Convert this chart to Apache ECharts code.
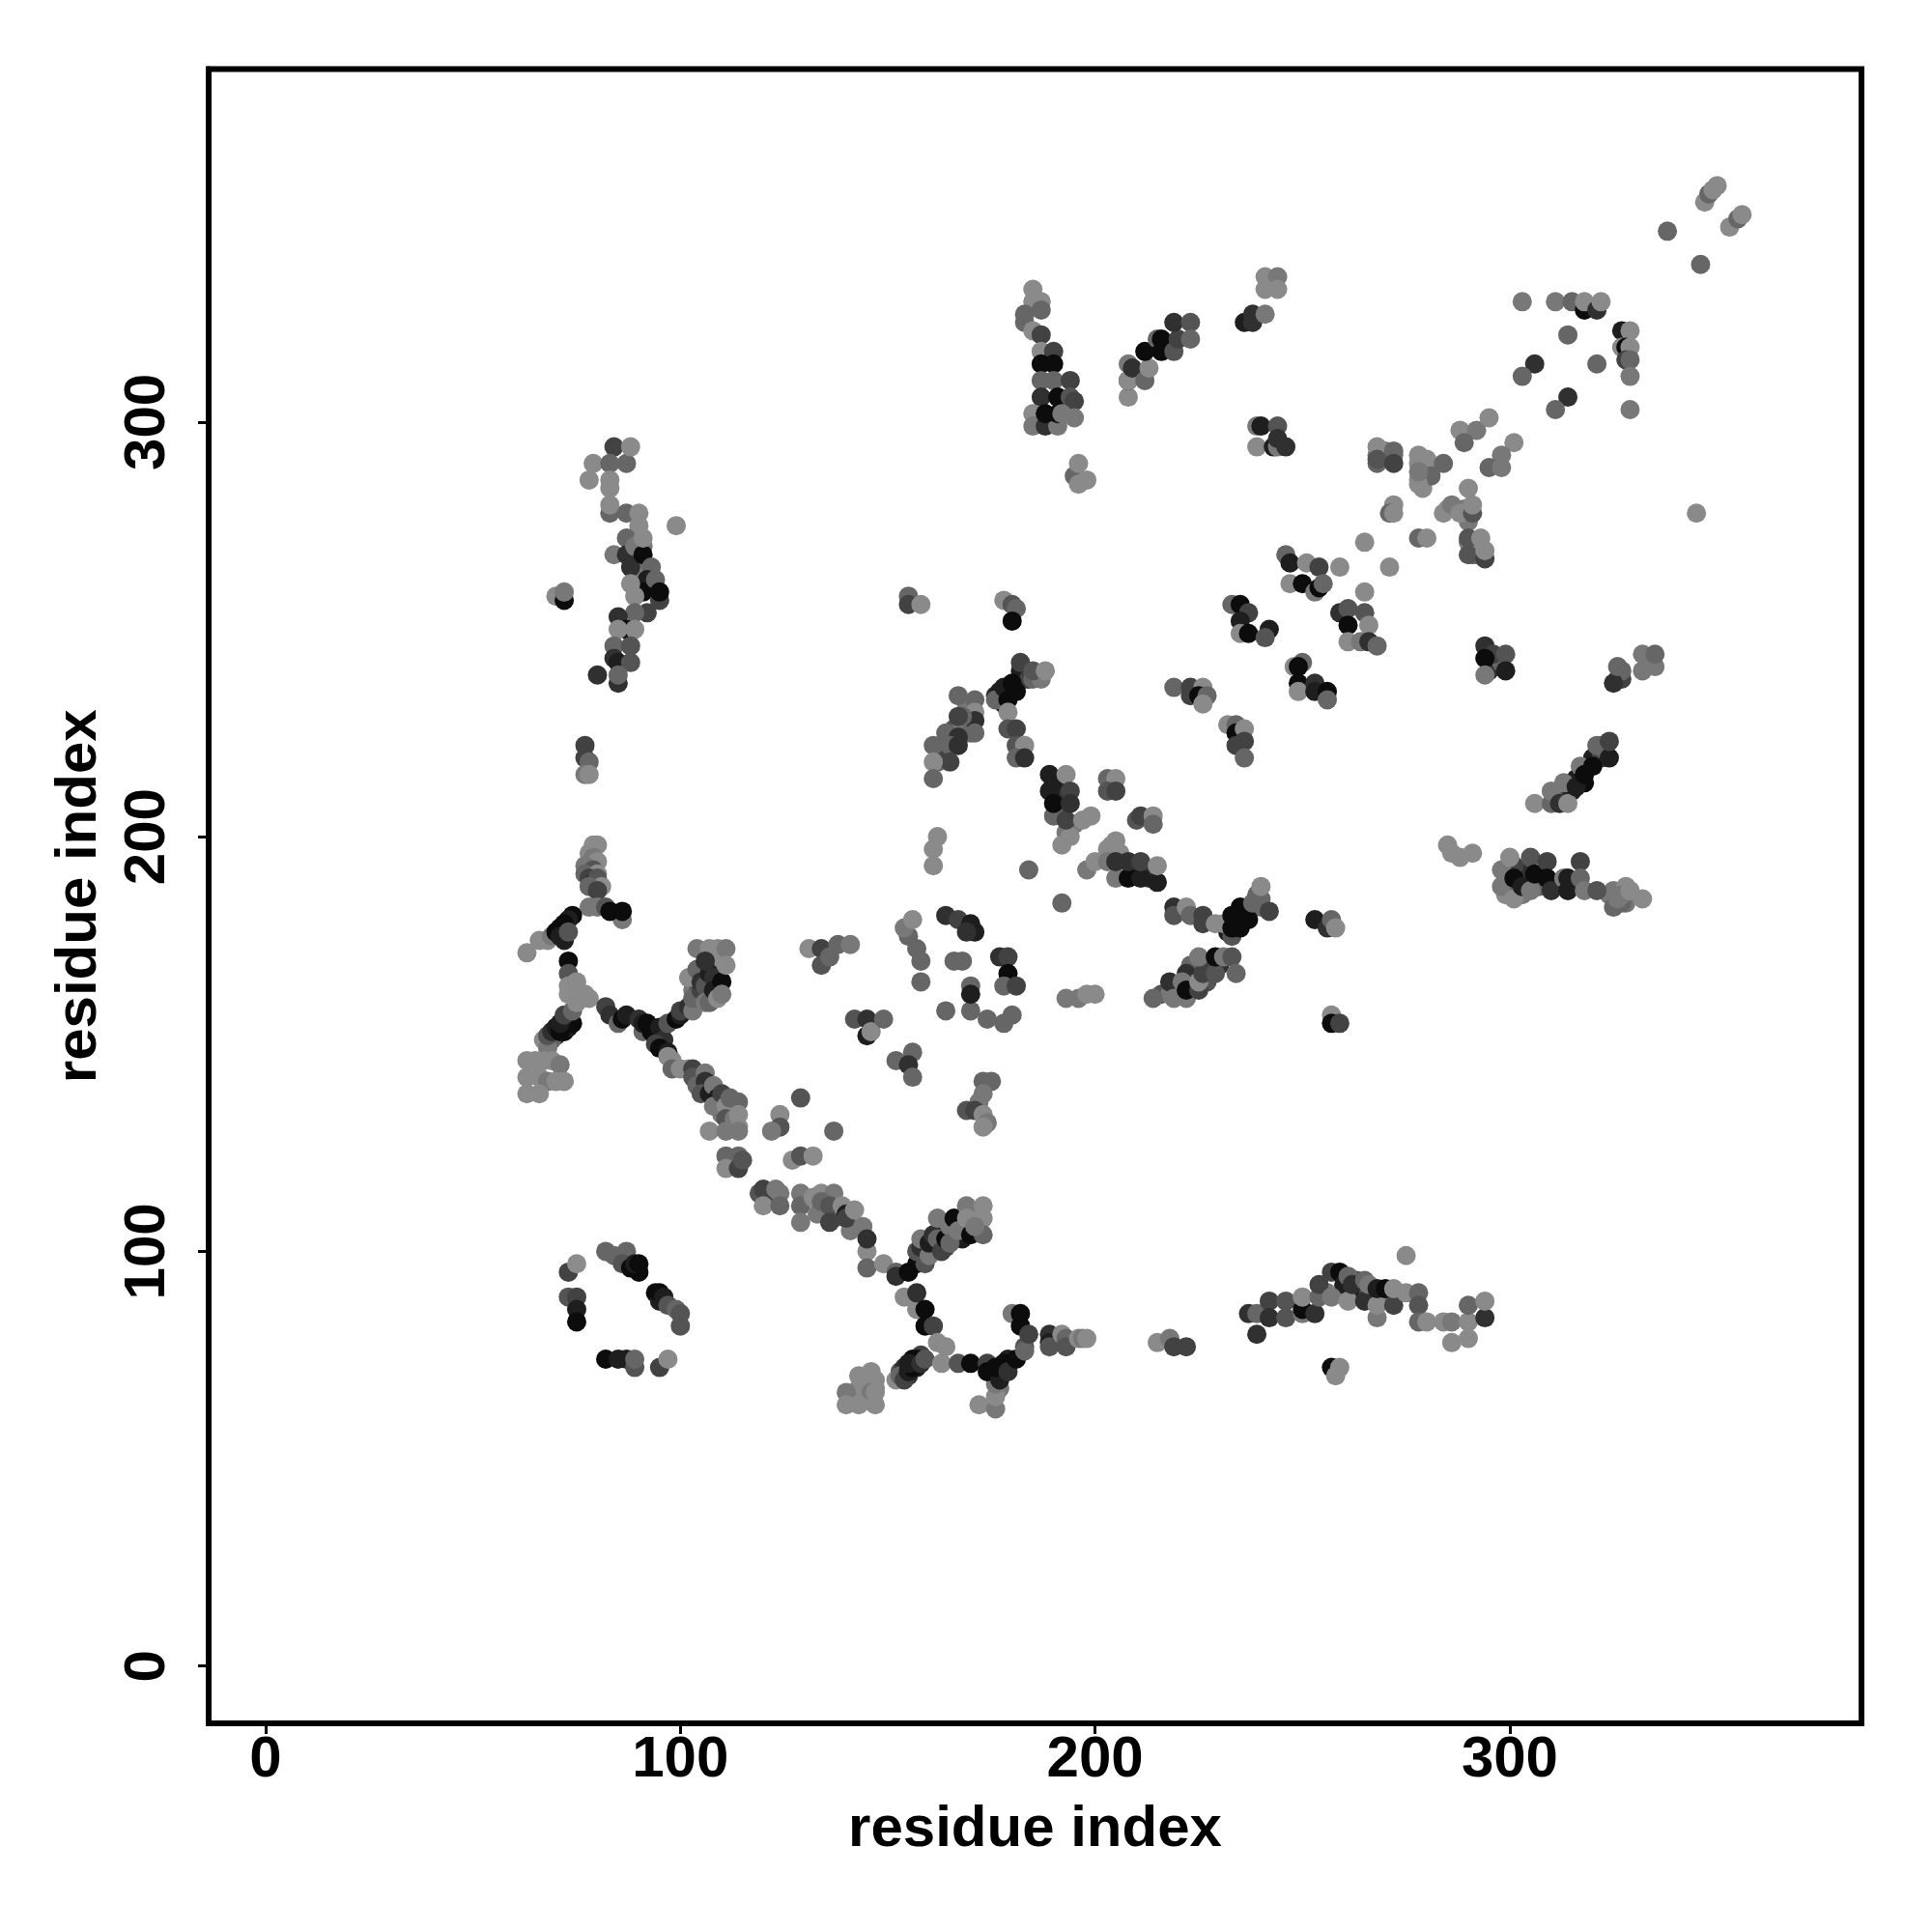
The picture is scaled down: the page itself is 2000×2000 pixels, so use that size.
<!DOCTYPE html>
<html><head><meta charset="utf-8">
<style>html,body{margin:0;padding:0;background:#fff}#c{width:2000px;height:2000px}</style>
<script src="https://cdn.jsdelivr.net/npm/echarts@6/dist/echarts.min.js"></script>
</head><body><div id="c"></div>
<script>
// each point: residue i, residue j, contact score digit (0 = strongest/darkest, 8 = weakest/lightest)
const tickValues = [0, 100, 200, 300];
const axisTitle = 'residue index';
const underRight = [[268,292,6],[272,292,6],[268,290,5],[270,293,6],[278,290,7],[279,287,6],[278,286,7],[280,289,6],[279,284,7],[285,279,7],[287,279,6],[289,279,6],[290,276,6],[290,271,6],[292,271,7],[291,268,5],[292,268,5],[293,270,7],[295,242,3],[297,243,2],[297,241,1],[295,240,2],[298,242,5],[299,190,5],[299,186,7],[300,192,5],[302,187,7],[302,192,6],[303,186,6],[304,192,2],[307,188,5],[300,188,4],[301,193,3],[324,186,6],[328,184,6],[327,184,5],[325,187,6],[328,188,7],[312,211,4],[315,211,1],[316,214,1],[318,213,0],[320,219,1],[322,219,3],[323,221,5],[322,222,5],[326,238,2],[327,238,3],[327,240,5]];
const underCentre = [[236,182,0],[238,183,1],[234,180,0],[232,177,1],[239,186,5],[240,183,5],[176,234,2],[177,235,1],[183,238,2],[182,240,1],[184,238,3],[178,232,1],[185,238,5],[187,238,6],[162,218,5],[163,220,3],[166,226,4],[168,227,6],[170,225,5],[169,232,6],[191,213,3],[192,209,2],[191,206,4],[193,201,6],[195,203,6],[190,213,1],[206,196,7],[204,198,7],[207,192,3],[210,192,3],[206,192,7],[209,191,1],[212,192,2],[213,190,2],[216,162,4],[220,163,5],[224,166,4],[228,169,3],[230,169,2],[223,169,5],[218,162,6],[227,165,4]];
const underLeft = [[90,266,3],[90,262,1],[91,264,6],[92,260,1],[93,260,5],[89,263,6],[89,267,5],[91,270,6],[103,163,6],[105,161,4],[106,166,3],[107,164,2],[108,169,5],[109,170,6],[110,170,7],[106,168,6],[104,165,4],[70,152,2],[72,153,0],[73,154,1],[69,151,5],[112,135,6],[110,133,6],[112,130,6],[113,134,7],[106,139,5],[109,135,2]];
const underLow = [[159,102,5],[161,101,4],[163,105,5],[164,101,4],[166,103,2],[168,106,4],[168,103,1],[171,108,7],[172,106,6],[172,105,6],[153,71,4],[154,72,2],[156,74,0],[157,72,1],[158,75,3],[155,70,2],[154,70,5],[175,72,0],[177,71,0],[178,72,0],[176,69,1],[179,74,1],[177,67,6],[176,70,2],[144,69,7],[145,68,7],[147,67,7],[145,64,7],[144,65,7],[141,65,7],[146,70,7],[256,90,6],[263,91,3],[264,90,1],[266,90,4],[263,93,4],[268,89,6],[270,89,6],[272,89,6],[259,90,7]];
const ringLow = [[73,95,3],[75,97,8],[73,89,4],[75,89,3],[75,86,1],[75,83,0],[82,100,5],[84,99,5],[87,100,5],[86,97,4],[88,96,0],[90,95,0],[89,97,1],[90,97,0],[94,90,0],[95,88,1],[95,90,0],[96,89,1],[97,87,4],[99,86,5],[100,85,4],[100,82,4],[82,74,0],[85,74,1],[87,74,1],[89,72,4],[89,74,5],[95,72,3],[97,74,7]];
const junctionLeft = [[79,198,8],[80,198,7],[78,196,7],[79,195,6],[80,194,7],[77,193,6],[79,192,4],[77,191,5],[80,191,8],[78,190,3],[79,189,2],[80,190,4],[81,188,8],[78,188,5],[80,187,3],[86,180,6],[78,183,6],[80,183,6],[82,183,4],[83,182,0],[86,182,0],[66,175,7],[68,175,7],[69,176,6],[63,172,7],[74,181,0],[73,180,1],[72,179,0],[71,178,0],[70,177,0],[71,176,1],[72,175,1],[73,177,4],[73,170,0],[73,167,4],[67,151,7],[68,149,6],[68,152,4],[69,153,2],[70,154,1],[71,153,0],[72,155,0],[73,156,0],[74,155,0],[71,155,1],[72,157,3],[74,158,5],[73,162,8],[73,164,8],[75,165,7],[75,160,7],[77,162,7],[78,161,7],[82,159,3],[83,157,2],[85,155,5],[86,156,0],[87,157,1],[90,156,2],[91,153,5],[91,155,1],[93,154,5]];
const blockLeft = [[63,146,7],[65,146,7],[67,146,7],[69,146,7],[71,145,6],[63,142,7],[66,142,7],[68,141,6],[70,141,7],[72,141,7],[63,138,7],[66,138,7]];
const junctionMid = [[98,146,7],[92,155,0],[93,153,0],[94,152,0],[95,154,1],[96,151,2],[94,150,3],[95,149,0],[97,155,4],[97,148,1],[99,156,0],[100,157,1],[100,158,3],[102,159,2],[103,158,6],[104,162,4],[103,161,5],[105,163,3],[102,166,7],[104,168,5],[105,165,2],[106,164,4],[106,160,6],[107,160,5],[107,167,1],[108,166,2],[108,163,1],[109,161,7],[110,165,0],[110,162,6],[104,173,6],[107,173,7],[109,173,7],[111,173,6],[111,169,7],[106,170,2]];
const diagonalA = [[97,147,7],[98,144,5],[100,144,7],[102,144,7],[103,144,3],[103,142,4],[104,140,5],[106,143,6],[106,141,2],[105,138,4],[107,138,1],[108,140,6],[109,137,1],[108,135,6],[110,138,3],[111,135,7],[112,137,5],[111,132,4],[113,132,6],[114,136,5],[114,133,7],[114,130,7],[107,129,7],[111,129,6],[114,129,6],[111,123,5],[114,123,5],[111,120,7],[114,120,3],[115,122,4]];
const diagonalB = [[119,114,4],[120,115,3],[121,114,3],[123,115,6],[124,114,6],[120,111,7],[124,111,5],[124,133,7],[124,130,4],[122,129,6],[129,137,4],[137,129,5],[127,122,7],[129,123,4],[132,123,8],[129,114,6],[129,111,5],[129,107,6],[132,113,7],[134,114,7],[137,114,6],[133,109,6],[134,112,5],[136,111,4],[137,108,4],[136,107,3],[139,111,7],[140,109,1],[141,105,6],[140,108,3],[142,110,7],[144,106,6],[145,100,7],[145,96,5],[145,103,2],[149,97,7]];
const junctionLow = [[154,89,7],[157,86,7],[152,95,5],[152,94,2],[155,95,0],[157,97,0],[159,97,4],[157,90,2],[159,86,0],[159,82,0],[161,82,3],[157,100,4],[158,101,2],[158,103,6],[160,99,6],[160,102,1],[161,104,2],[162,103,5],[163,100,3],[162,108,6],[164,103,0],[165,106,6],[166,108,0],[165,102,5],[167,105,6],[169,111,6],[169,108,7],[173,111,7],[173,108,7],[170,104,0],[173,104,5],[171,106,6]];
const blockLow = [[143,70,7],[146,71,7],[147,69,7],[143,67,7],[146,66,6],[147,66,7],[140,66,6],[140,63,7],[143,63,7],[147,63,7]];
const branchLow = [[152,69,7],[153,70,5],[154,69,3],[155,71,1],[156,72,0],[157,74,0],[155,73,1],[158,73,2],[159,74,4],[162,78,7],[164,77,7],[163,73,7],[167,73,4],[170,73,0],[172,63,7],[176,62,6],[176,65,7],[176,68,6],[174,73,3],[174,71,0],[177,69,1],[176,72,0],[178,73,0],[179,71,2],[181,74,0],[180,85,6],[182,85,0],[182,82,0],[183,77,4],[183,76,5],[184,80,3],[189,80,2],[189,78,1],[189,77,4],[192,80,7],[193,79,5],[193,77,4],[196,79,7],[197,79,6],[198,79,7],[215,78,7],[218,79,6],[219,77,3],[222,77,3]];
const arcLow = [[237,85,2],[239,85,5],[239,80,2],[242,88,3],[242,84,2],[246,88,4],[246,84,4],[250,85,6],[250,86,0],[250,89,7],[253,85,2],[254,89,5],[254,92,3],[257,95,3],[259,95,0],[260,92,1],[257,89,6],[261,88,7],[261,94,5],[262,92,2],[265,93,5],[265,88,2],[266,92,6],[268,84,6],[268,87,7],[268,91,1],[270,91,0],[272,87,3],[272,91,7],[275,99,7],[275,90,7],[278,90,5],[278,87,4],[278,83,5],[280,83,7],[284,83,7],[286,83,6],[290,83,7],[290,87,5],[286,78,7],[290,79,7],[294,84,2],[294,88,7],[257,72,0],[259,72,7],[258,70,7]];
const centreSmall = [[131,173,7],[134,173,3],[134,169,4],[136,171,5],[138,174,5],[141,174,6],[142,156,4],[145,156,2],[145,152,1],[146,153,7],[149,156,5],[152,146,5],[156,148,5],[155,145,2],[156,142,5],[155,176,5],[154,178,6],[156,180,7],[157,173,5],[158,170,5],[158,165,5],[164,181,2],[167,180,3],[166,170,5],[168,170,5],[170,179,1],[171,177,1],[169,177,2],[164,158,5],[170,158,5],[174,156,5],[178,155,5],[180,157,5],[170,164,5],[170,162,1],[177,171,2],[179,171,3],[179,167,0],[178,164,5],[181,164,3],[161,193,7],[161,197,7],[162,200,7],[155,258,5],[155,256,3],[158,256,7],[178,257,7],[180,256,4],[181,255,5],[180,252,0]];
const centreArm = [[176,233,5],[171,233,5],[171,230,7],[171,228,2],[171,225,5],[167,234,5],[164,225,5],[168,229,5],[167,229,3],[167,224,2],[165,222,5],[167,222,2],[161,222,5],[165,218,3],[161,218,7],[161,214,5],[178,236,1],[179,233,0],[180,237,0],[181,235,0],[182,242,3],[185,240,4],[188,240,7],[179,230,7],[179,226,4],[181,226,3],[181,222,4],[183,222,7],[181,219,5],[183,219,2],[184,192,5],[192,184,5]];
const centreLobe = [[192,198,7],[194,200,7],[190,205,5],[193,204,3],[189,215,1],[193,215,7],[189,211,1],[194,211,3],[190,208,0],[194,208,2],[197,204,7],[199,205,7],[203,214,5],[205,214,7],[203,211,4],[205,211,3],[210,204,4],[211,205,3],[214,205,7],[214,203,5],[198,192,6],[200,194,7],[205,199,7],[203,197,7],[205,190,6],[203,194,6],[205,194,2],[208,190,0],[208,194,2],[211,190,1],[211,194,3],[215,189,1],[215,193,7]];
const centreChain = [[219,183,2],[219,181,4],[222,183,7],[223,181,5],[226,181,3],[226,179,3],[229,179,7],[231,179,7],[233,176,4],[233,178,0],[233,181,0],[235,178,0],[235,183,0],[237,180,0],[238,184,5],[240,185,5],[240,188,7],[242,182,3],[253,180,1],[256,178,2],[257,180,5],[258,178,7],[193,161,6],[196,161,6],[198,162,7],[200,162,7],[214,161,5],[218,165,2],[219,161,6],[222,161,6],[222,167,2],[221,165,6],[222,163,0],[225,163,3],[225,165,7],[226,167,3],[229,167,4],[225,171,6],[229,171,0],[231,171,6],[233,171,4],[234,167,5],[257,157,7],[257,155,0],[259,155,3],[173,141,5],[175,141,5],[173,138,6],[172,136,6],[169,134,4],[171,134,3],[173,133,7],[174,131,6],[173,130,7]];
const blockRight = [[285,198,7],[286,196,7],[288,195,7],[291,196,7],[298,192,6],[298,188,6],[301,185,7],[300,195,7],[301,190,0],[303,188,1],[305,195,4],[305,187,6],[306,191,0],[309,194,3],[309,190,0],[310,187,2],[313,190,6],[314,187,1],[314,190,1],[317,194,3],[317,190,5],[318,187,6],[321,187,4],[325,183,5],[326,185,6],[327,186,6],[329,187,7],[332,185,7],[306,208,7],[310,208,5],[310,211,6],[312,208,2],[314,208,7],[313,213,6],[316,212,1],[317,217,6],[318,215,0],[320,217,0],[321,222,5],[324,219,1],[324,223,3],[325,237,2],[326,241,5],[332,240,6],[335,241,6],[332,244,6],[335,244,5]];
const diagonalC = [[294,246,2],[296,244,3],[294,243,0],[299,244,4],[294,239,6],[299,240,1],[219,236,5],[223,236,3],[226,236,7],[223,234,3],[225,234,0],[227,234,5],[226,232,7],[232,227,7],[234,227,5],[234,225,0],[236,226,7],[234,222,3],[236,223,3],[236,219,5],[233,256,5],[235,256,0],[237,254,3],[235,252,1],[235,249,7],[237,249,0],[242,250,1],[241,248,4],[250,242,5],[248,241,7],[249,241,0],[249,237,0],[249,235,7],[253,237,2],[253,235,1],[256,235,0],[256,233,5],[246,268,5],[247,266,1],[251,266,7],[254,265,3],[247,261,7],[250,261,0],[253,259,6],[254,260,0],[255,261,5],[259,265,7],[265,271,7],[271,265,7],[265,259,7],[259,254,2],[261,255,4],[265,254,4],[261,251,0],[266,251,7],[261,247,7],[264,247,6],[266,247,2],[268,246,5]];
const diagonalD = [[268,294,7],[272,293,5],[268,291,4],[272,290,3],[278,292,7],[280,291,7],[284,290,5],[281,287,5],[278,285,7],[278,288,6],[288,298,7],[292,298,6],[289,295,5],[295,301,7],[301,295,7],[298,292,6],[295,289,5],[298,289,6],[290,284,7],[284,278,7],[286,280,6],[288,278,7],[291,278,4],[291,280,7],[272,280,7],[271,278,5],[272,278,7],[278,272,5],[280,272,7],[290,272,4],[293,272,7],[290,268,4],[294,267,3],[294,269,7]];
const cornerRight = [[303,329,6],[311,329,6],[315,329,5],[318,327,0],[318,329,7],[321,327,2],[322,329,7],[314,321,5],[306,314,2],[303,311,5],[321,314,5],[314,306,2],[311,303,5],[327,322,1],[329,322,7],[327,318,7],[328,318,0],[329,318,7],[328,315,3],[329,315,5],[329,311,6],[329,303,6],[338,346,5],[346,338,5],[345,278,7],[347,353,7],[348,355,5],[349,356,7],[350,357,7],[353,347,7],[355,349,5],[356,350,7]];
const ridgeTop = [[185,332,7],[187,329,7],[185,329,7],[187,327,5],[183,326,5],[183,324,5],[185,322,7],[187,321,3],[187,317,7],[190,317,3],[187,314,0],[190,314,0],[187,310,5],[190,310,5],[194,310,3],[187,306,2],[191,306,0],[194,306,4],[195,305,3],[185,302,7],[185,299,6],[188,299,2],[191,299,6],[188,302,0],[191,302,0],[192,302,6],[195,301,6],[195,287,5],[196,290,7],[198,286,7],[196,285,7]];
const ridgeTopRight = [[208,306,7],[208,314,6],[208,310,1],[208,310,7],[209,313,2],[212,310,5],[213,313,7],[212,317,0],[215,320,5],[216,320,0],[216,317,0],[219,317,4],[220,320,3],[219,324,2],[223,324,4],[223,320,5],[241,335,7],[244,335,6],[241,332,7],[244,332,7],[236,324,1],[238,326,2],[238,324,2],[241,326,6],[239,299,6],[240,299,1],[244,299,4],[239,294,7],[243,294,1],[244,294,6],[244,296,2],[246,294,2]];
const columnLeft = [[84,294,3],[87,290,5],[88,294,7],[79,290,7],[83,290,5],[78,286,7],[83,284,7],[83,286,7],[83,278,5],[83,280,7],[87,278,5],[90,278,7],[90,275,7],[99,275,7],[84,268,6],[87,272,5],[87,268,2],[88,265,2],[89,270,6],[91,268,0],[91,272,7],[93,265,5],[92,262,1],[91,259,0],[94,262,5],[95,257,3],[95,259,0],[88,261,7],[89,258,7],[92,254,3],[89,254,5],[85,253,2],[87,250,0],[85,250,7],[89,250,7],[84,246,5],[88,246,4],[84,243,2],[85,242,1],[88,242,4],[85,237,2],[85,239,5],[80,239,2],[70,258,7],[72,257,0],[72,259,6],[77,222,3],[77,219,3],[78,218,5],[77,215,6],[78,215,7]];

const seriesData = [].concat(underRight, underCentre, underLeft, underLow, ringLow, junctionLeft, blockLeft, junctionMid, diagonalA, diagonalB, junctionLow, blockLow, branchLow, arcLow, centreSmall, centreArm, centreLobe, centreChain, blockRight, diagonalC, diagonalD, cornerRight, ridgeTop, ridgeTopRight, columnLeft);

const gray = s => { const g = Math.min(140, Math.round(12 + 18 * s)); return `rgb(${g},${g},${g})`; };
const font = 'Liberation Sans';
const chart = echarts.init(document.getElementById('c'), null, {renderer:'canvas'});
const axisBase = {
  type:'value', name:axisTitle, nameLocation:'middle',
  nameTextStyle:{fontFamily:font,fontWeight:'bold',fontSize:60,color:'#000'},
  splitLine:{show:false},
  axisLine:{show:true,onZero:false,lineStyle:{color:'#000',width:6}},
  axisTick:{show:true,length:11,customValues:tickValues,lineStyle:{color:'#000',width:3}}
};
chart.setOption({
  animation:false, backgroundColor:'#fff',
  grid:{left:216,top:71.5,width:1711,height:1712.5,show:true,borderColor:'#000',borderWidth:6,backgroundColor:'transparent',containLabel:false},
  xAxis:Object.assign({},axisBase,{min:-13.74,max:384.8,nameGap:80,
    axisLabel:{show:true,customValues:tickValues,margin:8,fontFamily:font,fontWeight:'bold',fontSize:60,color:'#000'}}),
  yAxis:Object.assign({},axisBase,{min:-13.81,max:385.1,nameGap:104,
    axisLabel:{show:true,customValues:tickValues,rotate:90,margin:63,fontFamily:font,fontWeight:'bold',fontSize:60,color:'#000',align:'center',verticalAlign:'middle'}}),
  series:[{type:'scatter',data:seriesData,symbol:'circle',symbolSize:20,silent:true,
    encode:{x:0,y:1},
    itemStyle:{opacity:1,color:p=>gray(p.value[2])}}]
});
</script></body></html>
